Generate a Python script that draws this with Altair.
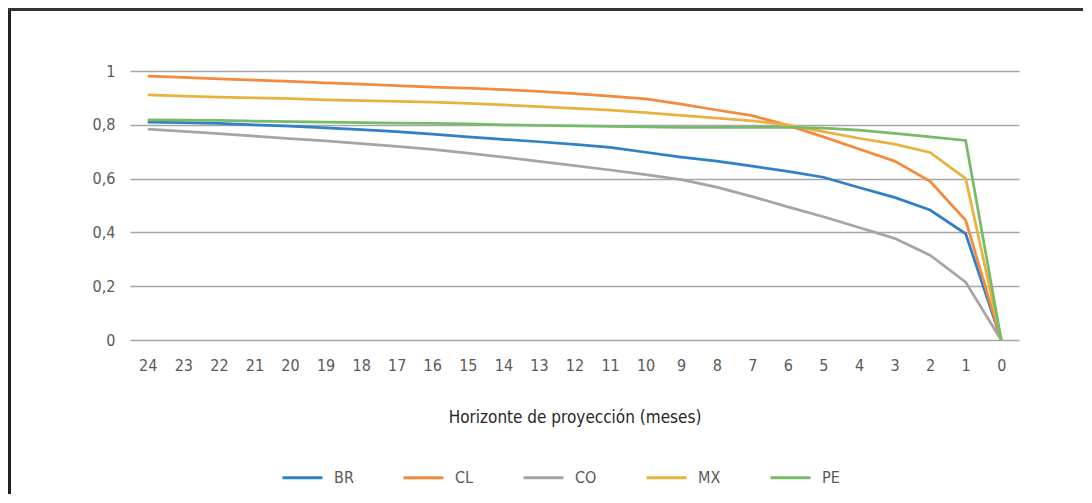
import altair as alt
import pandas as pd

# Horizonte de proyección (meses), de 24 a 0
horizons = [24, 23, 22, 21, 20, 19, 18, 17, 16, 15, 14, 13, 12,
            11, 10, 9, 8, 7, 6, 5, 4, 3, 2, 1, 0]

br = [0.810, 0.808, 0.805, 0.800, 0.795, 0.789, 0.782, 0.775, 0.765, 0.755, 0.746, 0.737, 0.727,
      0.716, 0.698, 0.680, 0.665, 0.646, 0.627, 0.605, 0.567, 0.530, 0.483, 0.395, 0.0]
cl = [0.981, 0.976, 0.971, 0.966, 0.961, 0.956, 0.951, 0.946, 0.940, 0.936, 0.931, 0.924, 0.916,
      0.907, 0.896, 0.877, 0.855, 0.834, 0.798, 0.755, 0.710, 0.665, 0.590, 0.445, 0.0]
co = [0.784, 0.776, 0.767, 0.758, 0.749, 0.740, 0.730, 0.720, 0.709, 0.695, 0.680, 0.664, 0.648,
      0.632, 0.615, 0.596, 0.568, 0.533, 0.495, 0.458, 0.418, 0.378, 0.315, 0.215, 0.0]
mx = [0.911, 0.907, 0.903, 0.900, 0.897, 0.893, 0.890, 0.887, 0.884, 0.880, 0.874, 0.868, 0.861,
      0.855, 0.845, 0.835, 0.825, 0.815, 0.800, 0.775, 0.750, 0.728, 0.697, 0.600, 0.0]
pe = [0.818, 0.817, 0.816, 0.814, 0.812, 0.810, 0.808, 0.806, 0.805, 0.803, 0.800, 0.798, 0.796,
      0.794, 0.792, 0.790, 0.790, 0.790, 0.790, 0.788, 0.780, 0.768, 0.755, 0.742, 0.0]

series = ["BR", "CL", "CO", "MX", "PE"]
colors = ["#2f80c6", "#f48a3c", "#a5a5a5", "#e9b23e", "#76bb67"]

rows = []
for name, vals in zip(series, [br, cl, co, mx, pe]):
    for h, v in zip(horizons, vals):
        rows.append({"h": h, "valor": v, "pais": name})
df = pd.DataFrame(rows)

FONT = "Liberation Sans Narrow, DejaVu Sans Condensed, sans-serif"

lines = alt.Chart(df).mark_line(strokeWidth=2.75).encode(
    x=alt.X("h:O", sort=horizons,
            scale=alt.Scale(type="point", padding=0.5),
            axis=alt.Axis(title="Horizonte de proyección (meses)", labelAngle=0,
                          ticks=False, domain=False, grid=False,
                          labelPadding=17, titlePadding=36)),
    y=alt.Y("valor:Q", scale=alt.Scale(domain=[0, 1]),
            axis=alt.Axis(title=None, values=[0, 0.2, 0.4, 0.6, 0.8, 1],
                          labelExpr="replace(format(datum.value, '.1~f'), '.', ',')",
                          ticks=False, domain=False, labelPadding=15,
                          gridColor="#a6a6a6", gridWidth=1.5)),
    color=alt.Color("pais:N", scale=alt.Scale(domain=series, range=colors),
                    legend=alt.Legend(title=None, orient="none", direction="horizontal",
                                      legendX=151, legendY=385,
                                      symbolType="stroke", symbolSize=1600,
                                      symbolStrokeWidth=3, labelOffset=10,
                                      columnPadding=43)),
)

# marco del recuadro
frame = pd.DataFrame({"k": [0]})
left_edge = alt.Chart(frame).mark_rule(color="#222222", strokeWidth=3).encode(
    x=alt.value(-120.5), y=alt.value(-63), y2=alt.value(430))
top_edge = alt.Chart(frame).mark_rule(color="#333333", strokeWidth=3).encode(
    x=alt.value(-122), x2=alt.value(960), y=alt.value(-61.5))

chart = alt.layer(lines, left_edge, top_edge).properties(
    width=889,
    height=269,
    autosize=alt.AutoSizeParams(type="none"),
    padding={"left": 122, "top": 63, "right": 64, "bottom": 154},
).configure_view(
    stroke=None
).configure_axis(
    labelFont=FONT, labelFontSize=16, labelColor="#595959",
    titleFont=FONT, titleFontSize=17, titleColor="#262626", titleFontWeight="normal"
).configure_legend(
    labelFont=FONT, labelFontSize=16, labelColor="#595959"
)

chart.save("out.html", embed_options={"renderer": "svg", "actions": False})
